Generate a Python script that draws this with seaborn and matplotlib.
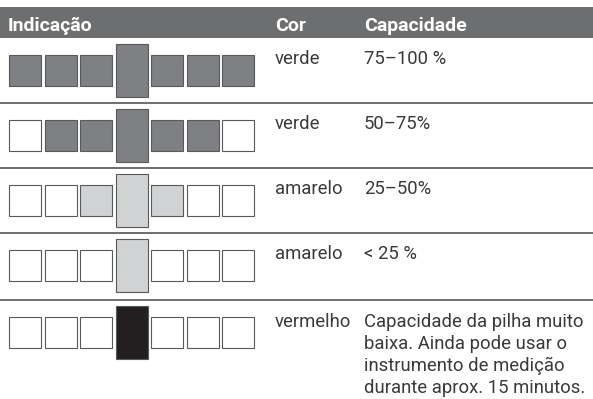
import matplotlib
matplotlib.use('Agg')
import matplotlib.pyplot as plt
import seaborn as sns

# Table content
headers = ['Indicação', 'Cor', 'Capacidade']
colours = ['verde', 'verde', 'amarelo', 'amarelo', 'vermelho']
capacities = ['75–100 %', '50–75%', '25–50%', '< 25 %',
              'Capacidade da pilha muito\nbaixa. Ainda pode usar o\ninstrumento de medição\ndurante aprox. 15 minutos.']
# which of the 7 LED segments are lit in each row (1 = lit)
lit = [
    [1, 1, 1, 1, 1, 1, 1],
    [0, 1, 1, 1, 1, 1, 0],
    [0, 0, 1, 1, 1, 0, 0],
    [0, 0, 0, 1, 0, 0, 0],
    [0, 0, 0, 1, 0, 0, 0],
]
fill_colours = ['#7f8084', '#7f8084', '#d1d2d4', '#d1d2d4', '#231f20']

sns.set_theme(style='white')
plt.rcParams['font.family'] = ['Roboto', 'DejaVu Sans']

W, H = 593, 399
fig = plt.figure(figsize=(W / 100, H / 100), dpi=100)
ax = fig.add_axes([0, 0, 1, 1])
ax.set_xlim(0, W)
ax.set_ylim(H, 0)
ax.axis('off')

text_col = '#3a3a3c'
line_col = '#6d6e70'

# header bar
ax.barh(22.5, W, height=31, left=0, color='#6d6e70', edgecolor='none')
hx = [8, 275, 364]
for x, t in zip(hx, headers):
    ax.text(x, 31, t, color='white', fontsize=14, fontweight='bold',
            va='baseline', ha='left')

row_tops = [38, 103, 168, 233, 300]
for y in row_tops[1:]:
    ax.plot([0, W], [y, y], color=line_col, lw=1.4, solid_capstyle='butt')

x0, pitch, bw = 9, 35.5, 32
small_h, tall_h = 31, 53
line_gap = 22
for r, top in enumerate(row_tops):
    cy = top + 32.5
    xs = [x0 + bw / 2 + i * pitch for i in range(7)]
    heights = [tall_h if i == 3 else small_h for i in range(7)]
    bottoms = [cy - h / 2 for h in heights]
    cols = [fill_colours[r] if v else 'white' for v in lit[r]]
    ax.bar(xs, heights, width=bw, bottom=bottoms, color=cols,
           edgecolor='#58595b', linewidth=0.8)
    base = top + 26 if r < 4 else top + 27
    ax.text(275, base, colours[r], color=text_col, fontsize=13.3,
            va='baseline', ha='left')
    for k, line in enumerate(capacities[r].split('\n')):
        ax.text(364, base + k * line_gap, line, color=text_col, fontsize=13.3,
                va='baseline', ha='left')

fig.savefig('out.png', dpi=100)
